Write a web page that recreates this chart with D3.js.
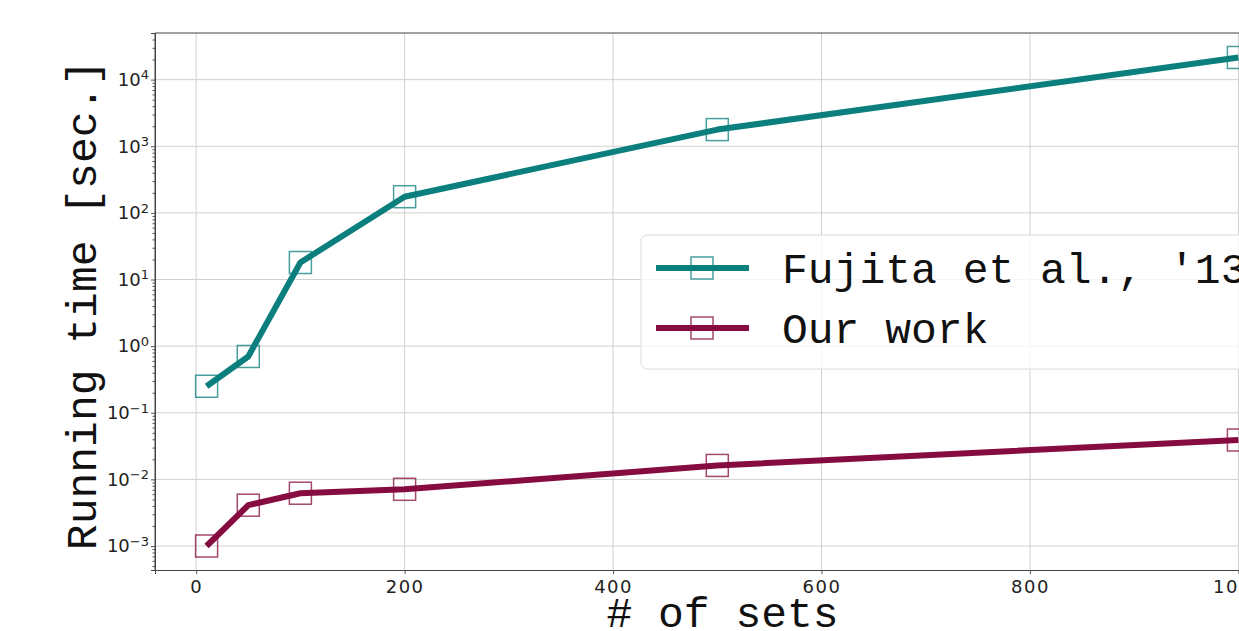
<!DOCTYPE html>
<html>
<head>
<meta charset="utf-8">
<script src="https://cdn.jsdelivr.net/npm/d3@7"></script>
<style>
  html, body { margin: 0; padding: 0; background: #fff; overflow: hidden; }
  svg { display: block; }
  .tick text { font-family: "DejaVu Sans", sans-serif; fill: #222; }
  .mono { font-family: "Liberation Mono", "Courier New", monospace; fill: #111; }
</style>
</head>
<body>
<div id="chart"></div>
<script>
// data
var sets = [10, 50, 100, 200, 500, 1000];
var fujita = [0.25, 0.7, 18, 175, 1780, 21500];
var ours = [0.001, 0.0041, 0.0062, 0.0071, 0.0162, 0.039];
var xTicks = [0, 200, 400, 600, 800, 1000];
var yTicks = [1e-3, 1e-2, 1e-1, 1e0, 1e1, 1e2, 1e3, 1e4];
var seriesNames = ["Fujita et al., '13", "Our work"];
var seriesColors = ["#0b7f7d", "#850b40"];

var W = 1239, H = 631;
var m = {left: 155, top: 33, right: 1290, bottom: 570};

var svg = d3.select("#chart").append("svg").attr("width", W).attr("height", H);

var x = d3.scaleLinear().domain([-39.5, 1049.5]).range([m.left, m.right]);
var y = d3.scaleLog().domain([Math.pow(10, -3.36), Math.pow(10, 4.70)]).range([m.bottom, m.top]);

// grid
var grid = svg.append("g");
grid.selectAll(".gx").data(xTicks).enter().append("line")
  .attr("x1", function(d){ return x(d); }).attr("x2", function(d){ return x(d); })
  .attr("y1", m.top).attr("y2", m.bottom)
  .attr("stroke", "#d0d0d0").attr("stroke-width", 1);
grid.selectAll(".gy").data(yTicks).enter().append("line")
  .attr("x1", m.left).attr("x2", m.right)
  .attr("y1", function(d){ return y(d); }).attr("y2", function(d){ return y(d); })
  .attr("stroke", "#d0d0d0").attr("stroke-width", 1);

// axes
var xAxis = svg.append("g").attr("transform", "translate(0," + m.bottom + ")")
  .call(d3.axisBottom(x).tickValues(xTicks).tickSize(4).tickPadding(6).tickFormat(d3.format("d")));
xAxis.selectAll("text").attr("font-size", 18).attr("letter-spacing", 1.5);

var minor = [];
for (var e = -4; e <= 4; e++) for (var k = 2; k <= 9; k++) {
  var v = k * Math.pow(10, e);
  if (v >= y.domain()[0] && v <= y.domain()[1]) minor.push(v);
}
svg.append("g").attr("transform", "translate(" + m.left + ",0)")
  .call(d3.axisLeft(y).tickValues(minor).tickSize(2.5).tickFormat(""))
  .call(function(g){ g.select(".domain").remove(); g.selectAll("line").attr("stroke", "#555"); });

var yAxis = svg.append("g").attr("transform", "translate(" + m.left + ",0)")
  .call(d3.axisLeft(y).tickValues(yTicks).tickSize(4).tickPadding(5).tickFormat(""));
yAxis.selectAll(".tick").each(function(d){
  var ex = Math.round(Math.log10(d));
  var t = d3.select(this).append("text").attr("x", -6).attr("dy", "0.32em")
    .attr("text-anchor", "end").attr("font-size", 18);
  t.append("tspan").text("10");
  t.append("tspan").attr("dy", "-0.5em").attr("font-size", 13).text(ex < 0 ? "\u2212" + (-ex) : String(ex));
});

svg.selectAll(".domain").attr("stroke", "#444");
svg.selectAll(".tick line").attr("stroke", "#555");
// top and left spines
svg.append("line").attr("x1", m.left).attr("x2", m.right).attr("y1", m.top).attr("y2", m.top)
  .attr("stroke", "#444");
svg.append("line").attr("x1", m.left).attr("x2", m.left).attr("y1", m.top).attr("y2", m.bottom)
  .attr("stroke", "#444");

// series
var line = d3.line().x(function(d){ return x(d[0]); }).y(function(d){ return y(d[1]); });
[fujita, ours].forEach(function(vals, i){
  var pts = sets.map(function(s, j){ return [s, vals[j]]; });
  svg.append("path").datum(pts).attr("d", line)
    .attr("fill", "none").attr("stroke", seriesColors[i]).attr("stroke-width", 6)
    .attr("stroke-linejoin", "round");
  svg.selectAll(null).data(pts).enter().append("rect")
    .attr("x", function(d){ return x(d[0]) - 11; }).attr("y", function(d){ return y(d[1]) - 11; })
    .attr("width", 22).attr("height", 22)
    .attr("fill", "none").attr("stroke", seriesColors[i]).attr("stroke-opacity", 0.75).attr("stroke-width", 1.5);
});

// legend
var lg = svg.append("g").attr("transform", "translate(641,235)");
lg.append("rect").attr("width", 700).attr("height", 134).attr("rx", 6)
  .attr("fill", "#fff").attr("fill-opacity", 0.8).attr("stroke", "#dcdcdc");
seriesNames.forEach(function(name, i){
  var cy = 33 + i * 60;
  lg.append("line").attr("x1", 15).attr("x2", 108).attr("y1", cy).attr("y2", cy)
    .attr("stroke", seriesColors[i]).attr("stroke-width", 6);
  lg.append("rect").attr("x", 50).attr("y", cy - 11).attr("width", 22).attr("height", 22)
    .attr("fill", "none").attr("stroke", seriesColors[i]).attr("stroke-opacity", 0.75).attr("stroke-width", 1.5);
  lg.append("text").attr("class", "mono").attr("x", 141).attr("y", cy).attr("dy", "0.36em")
    .attr("font-size", 43).text(name);
});

// axis labels
svg.append("text").attr("class", "mono").attr("font-size", 43)
  .attr("text-anchor", "middle").attr("x", (m.left + m.right) / 2).attr("y", 627)
  .text("# of sets");
svg.append("text").attr("class", "mono").attr("font-size", 43)
  .attr("text-anchor", "middle")
  .attr("transform", "translate(96," + ((62 + 548) / 2) + ") rotate(-90)")
  .text("Running time [sec.]");
</script>
</body>
</html>
